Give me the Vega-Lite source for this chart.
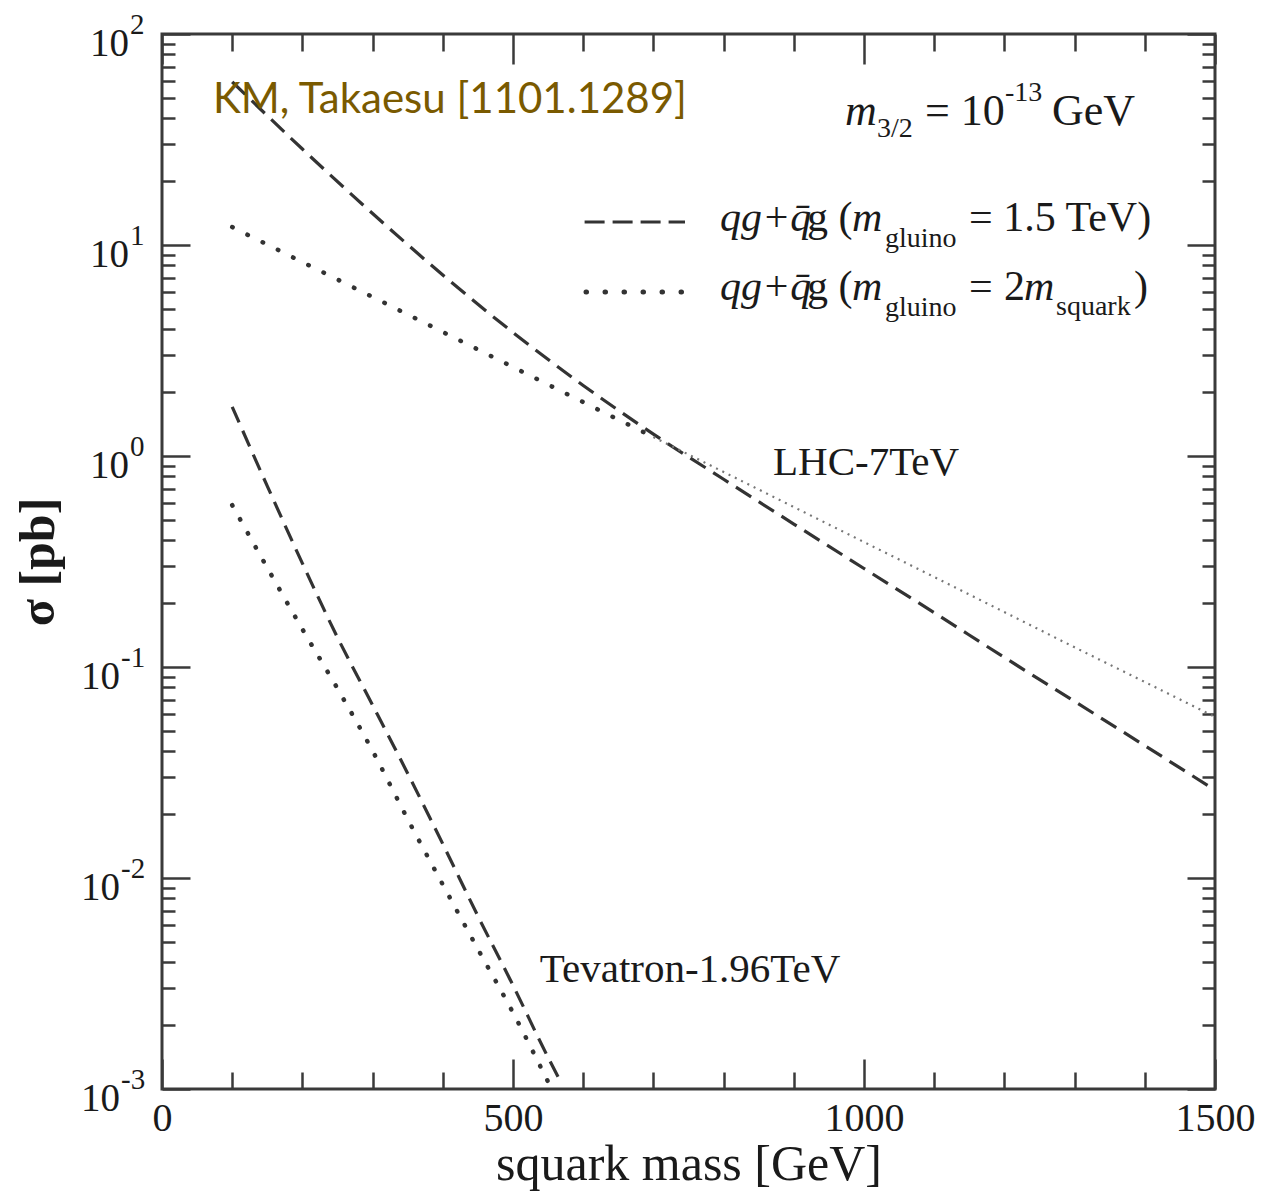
{
  "$schema": "https://vega.github.io/schema/vega-lite/v6.json",
  "width": 1053,
  "height": 1055,
  "autosize": "none",
  "padding": {"left": 162, "top": 34, "right": 48, "bottom": 104},
  "background": "white",
  "config": {"view": {"stroke": "#3a3a3a", "strokeWidth": 3}, "font": "Liberation Serif"},
  "datasets": {
    "curves": [
      {"series": "LHC dashed", "m": 100, "sigma": 59.3},
      {"series": "LHC dashed", "m": 200, "sigma": 28.5},
      {"series": "LHC dashed", "m": 300, "sigma": 14.1},
      {"series": "LHC dashed", "m": 400, "sigma": 7.21},
      {"series": "LHC dashed", "m": 500, "sigma": 3.85},
      {"series": "LHC dashed", "m": 600, "sigma": 2.16},
      {"series": "LHC dashed", "m": 700, "sigma": 1.27},
      {"series": "LHC dashed", "m": 800, "sigma": 0.776},
      {"series": "LHC dashed", "m": 900, "sigma": 0.476},
      {"series": "LHC dashed", "m": 1000, "sigma": 0.293},
      {"series": "LHC dashed", "m": 1100, "sigma": 0.181},
      {"series": "LHC dashed", "m": 1200, "sigma": 0.111},
      {"series": "LHC dashed", "m": 1300, "sigma": 0.0687},
      {"series": "LHC dashed", "m": 1400, "sigma": 0.0424},
      {"series": "LHC dashed", "m": 1500, "sigma": 0.0261},
      {"series": "LHC dotted", "m": 100, "sigma": 12.16},
      {"series": "LHC dotted", "m": 200, "sigma": 8.3},
      {"series": "LHC dotted", "m": 300, "sigma": 5.67},
      {"series": "LHC dotted", "m": 400, "sigma": 3.87},
      {"series": "LHC dotted", "m": 500, "sigma": 2.64},
      {"series": "LHC dotted", "m": 600, "sigma": 1.8},
      {"series": "LHC dotted", "m": 700, "sigma": 1.23},
      {"series": "LHC dotted", "m": 800, "sigma": 0.84},
      {"series": "LHC dotted", "m": 900, "sigma": 0.573},
      {"series": "LHC dotted", "m": 1000, "sigma": 0.391},
      {"series": "LHC dotted", "m": 1100, "sigma": 0.267},
      {"series": "LHC dotted", "m": 1200, "sigma": 0.182},
      {"series": "LHC dotted", "m": 1300, "sigma": 0.124},
      {"series": "LHC dotted", "m": 1400, "sigma": 0.0849},
      {"series": "LHC dotted", "m": 1500, "sigma": 0.058},
      {"series": "Tevatron dashed", "m": 100, "sigma": 1.71},
      {"series": "Tevatron dashed", "m": 150, "sigma": 0.72},
      {"series": "Tevatron dashed", "m": 200, "sigma": 0.31},
      {"series": "Tevatron dashed", "m": 250, "sigma": 0.138},
      {"series": "Tevatron dashed", "m": 300, "sigma": 0.066},
      {"series": "Tevatron dashed", "m": 350, "sigma": 0.0313},
      {"series": "Tevatron dashed", "m": 400, "sigma": 0.0145},
      {"series": "Tevatron dashed", "m": 450, "sigma": 0.0066},
      {"series": "Tevatron dashed", "m": 500, "sigma": 0.0031},
      {"series": "Tevatron dashed", "m": 550, "sigma": 0.00141},
      {"series": "Tevatron dashed", "m": 570, "sigma": 0.00105},
      {"series": "Tevatron dotted", "m": 100, "sigma": 0.585},
      {"series": "Tevatron dotted", "m": 150, "sigma": 0.295},
      {"series": "Tevatron dotted", "m": 200, "sigma": 0.151},
      {"series": "Tevatron dotted", "m": 250, "sigma": 0.079},
      {"series": "Tevatron dotted", "m": 300, "sigma": 0.04},
      {"series": "Tevatron dotted", "m": 350, "sigma": 0.019},
      {"series": "Tevatron dotted", "m": 400, "sigma": 0.0093},
      {"series": "Tevatron dotted", "m": 450, "sigma": 0.0046},
      {"series": "Tevatron dotted", "m": 500, "sigma": 0.0023},
      {"series": "Tevatron dotted", "m": 550, "sigma": 0.00108}
    ],
    "ypos": [
      {"v": 100, "e": "2"},
      {"v": 10, "e": "1"},
      {"v": 1, "e": "0"}
    ],
    "yneg": [
      {"v": 0.1, "e": "-1"},
      {"v": 0.01, "e": "-2"},
      {"v": 0.001, "e": "-3"}
    ]
  },
  "resolve": {"axis": {"x": "independent", "y": "independent"}},
  "layer": [
    {
      "data": {"name": "curves"},
      "transform": [{"filter": "datum.series === 'LHC dashed'"}],
      "mark": {"type": "line", "interpolate": "monotone", "stroke": "#333333", "strokeWidth": 3.2, "strokeDash": [18, 9], "clip": true},
      "encoding": {
        "x": {
          "field": "m", "type": "quantitative",
          "scale": {"domain": [0, 1500], "nice": false, "zero": false},
          "axis": {
            "orient": "bottom",
            "values": [0, 100, 200, 300, 400, 500, 600, 700, 800, 900, 1000, 1100, 1200, 1300, 1400, 1500],
            "tickSize": {"condition": {"test": "datum.value % 500 === 0", "value": -30}, "value": -17},
            "tickWidth": 2.5, "tickColor": "#3a3a3a", "domain": false, "grid": false,
            "labelExpr": "datum.value % 500 === 0 ? '' + datum.value : ''",
            "labelFont": "Liberation Serif", "labelFontSize": 40, "labelColor": "#1a1a1a",
            "labelPadding": 39, "labelOverlap": false, "labelFlush": false,
            "title": "squark mass [GeV]", "titleFont": "Liberation Serif", "titleFontSize": 50,
            "titleFontWeight": "normal", "titleColor": "#1a1a1a", "titlePadding": -12
          }
        },
        "y": {
          "field": "sigma", "type": "quantitative",
          "scale": {"type": "log", "domain": [0.001, 100], "nice": false},
          "axis": {
            "orient": "left",
            "values": [0.001, 0.002, 0.003, 0.004, 0.005, 0.006, 0.007, 0.008, 0.009, 0.01, 0.02, 0.03, 0.04, 0.05, 0.06, 0.07, 0.08, 0.09, 0.1, 0.2, 0.3, 0.4, 0.5, 0.6, 0.7, 0.8, 0.9, 1, 2, 3, 4, 5, 6, 7, 8, 9, 10, 20, 30, 40, 50, 60, 70, 80, 90, 100],
            "tickSize": {"condition": {"test": "abs(log(datum.value)/LN10 - round(log(datum.value)/LN10)) < 0.01", "value": -28}, "value": -13},
            "tickWidth": 2.5, "tickColor": "#3a3a3a", "domain": false, "grid": false, "labels": false,
            "title": "σ [pb]", "titleFont": "Liberation Serif", "titleFontSize": 50,
            "titleFontWeight": "bold", "titleColor": "#1a1a1a", "titlePadding": 97
          }
        }
      }
    },
    {
      "data": {"name": "curves"},
      "transform": [{"filter": "datum.series === 'LHC dotted' && datum.m <= 700"}],
      "mark": {"type": "line", "interpolate": "monotone", "stroke": "#333333", "strokeWidth": 4.5, "strokeDash": [0.5, 16.5], "strokeCap": "round", "clip": true},
      "encoding": {
        "x": {
          "field": "m", "type": "quantitative",
          "scale": {"domain": [0, 1500], "nice": false, "zero": false},
          "axis": {
            "orient": "top",
            "values": [0, 100, 200, 300, 400, 500, 600, 700, 800, 900, 1000, 1100, 1200, 1300, 1400, 1500],
            "tickSize": {"condition": {"test": "datum.value % 500 === 0", "value": -30}, "value": -17},
            "tickWidth": 2.5, "tickColor": "#3a3a3a", "domain": false, "grid": false, "labels": false, "title": null
          }
        },
        "y": {
          "field": "sigma", "type": "quantitative",
          "scale": {"type": "log", "domain": [0.001, 100], "nice": false},
          "axis": {
            "orient": "right",
            "values": [0.001, 0.002, 0.003, 0.004, 0.005, 0.006, 0.007, 0.008, 0.009, 0.01, 0.02, 0.03, 0.04, 0.05, 0.06, 0.07, 0.08, 0.09, 0.1, 0.2, 0.3, 0.4, 0.5, 0.6, 0.7, 0.8, 0.9, 1, 2, 3, 4, 5, 6, 7, 8, 9, 10, 20, 30, 40, 50, 60, 70, 80, 90, 100],
            "tickSize": {"condition": {"test": "abs(log(datum.value)/LN10 - round(log(datum.value)/LN10)) < 0.01", "value": -28}, "value": -13},
            "tickWidth": 2.5, "tickColor": "#3a3a3a", "domain": false, "grid": false, "labels": false, "title": null
          }
        }
      }
    },
    {
      "data": {"name": "curves"},
      "transform": [{"filter": "datum.series === 'LHC dotted' && datum.m >= 700"}],
      "mark": {"type": "line", "interpolate": "monotone", "stroke": "#777777", "strokeWidth": 2.2, "strokeDash": [2, 5], "clip": true},
      "encoding": {
        "x": {"field": "m", "type": "quantitative", "axis": null},
        "y": {"field": "sigma", "type": "quantitative", "axis": null}
      }
    },
    {
      "data": {"name": "curves"},
      "transform": [{"filter": "datum.series === 'Tevatron dashed'"}],
      "mark": {"type": "line", "interpolate": "monotone", "stroke": "#333333", "strokeWidth": 3.2, "strokeDash": [17, 9], "clip": true},
      "encoding": {
        "x": {"field": "m", "type": "quantitative", "axis": null},
        "y": {"field": "sigma", "type": "quantitative", "axis": null}
      }
    },
    {
      "data": {"name": "curves"},
      "transform": [{"filter": "datum.series === 'Tevatron dotted'"}],
      "mark": {"type": "line", "interpolate": "monotone", "stroke": "#333333", "strokeWidth": 4.5, "strokeDash": [0.5, 15.5], "strokeCap": "round", "clip": true},
      "encoding": {
        "x": {"field": "m", "type": "quantitative", "axis": null},
        "y": {"field": "sigma", "type": "quantitative", "axis": null}
      }
    },
    {
      "data": {"values": [{}]},
      "mark": {"type": "rule", "stroke": "#333333", "strokeWidth": 3, "strokeDash": [20, 8]},
      "encoding": {
        "x": {"datum": 602, "type": "quantitative", "axis": null},
        "x2": {"datum": 745},
        "y": {"datum": 12.85, "type": "quantitative", "axis": null}
      }
    },
    {
      "data": {"values": [{}]},
      "mark": {"type": "rule", "stroke": "#333333", "strokeWidth": 5, "strokeDash": [0.5, 18.5], "strokeCap": "round"},
      "encoding": {
        "x": {"datum": 604, "type": "quantitative", "axis": null},
        "x2": {"datum": 745},
        "y": {"datum": 5.98, "type": "quantitative", "axis": null}
      }
    },
    {
      "data": {"name": "ypos"},
      "mark": {"type": "text", "text": "10", "align": "right", "baseline": "middle", "dx": -33, "dy": 10, "font": "Liberation Serif", "fontSize": 39, "fill": "#1a1a1a"},
      "encoding": {
        "x": {"datum": 0, "type": "quantitative", "axis": null},
        "y": {"field": "v", "type": "quantitative", "axis": null}
      }
    },
    {
      "data": {"name": "ypos"},
      "mark": {"type": "text", "align": "left", "baseline": "middle", "dx": -32, "dy": -9, "font": "Liberation Serif", "fontSize": 29, "fill": "#1a1a1a"},
      "encoding": {
        "x": {"datum": 0, "type": "quantitative", "axis": null},
        "y": {"field": "v", "type": "quantitative", "axis": null},
        "text": {"field": "e"}
      }
    },
    {
      "data": {"name": "yneg"},
      "mark": {"type": "text", "text": "10", "align": "right", "baseline": "middle", "dx": -42, "dy": 10, "font": "Liberation Serif", "fontSize": 39, "fill": "#1a1a1a"},
      "encoding": {
        "x": {"datum": 0, "type": "quantitative", "axis": null},
        "y": {"field": "v", "type": "quantitative", "axis": null}
      }
    },
    {
      "data": {"name": "yneg"},
      "mark": {"type": "text", "align": "left", "baseline": "middle", "dx": -41, "dy": -9, "font": "Liberation Serif", "fontSize": 29, "fill": "#1a1a1a"},
      "encoding": {
        "x": {"datum": 0, "type": "quantitative", "axis": null},
        "y": {"field": "v", "type": "quantitative", "axis": null},
        "text": {"field": "e"}
      }
    },
    {
      "data": {"values": [{}]},
      "mark": {"type": "text", "text": "KM, Takaesu [1101.1289]", "align": "left", "baseline": "middle", "font": "Lato", "fontSize": 42, "fill": "#7a5a00"},
      "encoding": {
        "x": {"datum": 72.6, "type": "quantitative", "axis": null},
        "y": {"datum": 48.6, "type": "quantitative", "axis": null}
      }
    },
    {
      "data": {"values": [{}]},
      "mark": {"type": "text", "text": "m", "align": "left", "baseline": "alphabetic", "font": "Liberation Serif", "fontStyle": "italic", "fontSize": 44, "fill": "#1a1a1a"},
      "encoding": {"x": {"datum": 972.9, "type": "quantitative", "axis": null}, "y": {"datum": 37.0, "type": "quantitative", "axis": null}}
    },
    {
      "data": {"values": [{}]},
      "mark": {"type": "text", "text": "3/2", "align": "left", "baseline": "alphabetic", "dx": 32, "dy": 12, "font": "Liberation Serif", "fontSize": 28, "fill": "#1a1a1a"},
      "encoding": {"x": {"datum": 972.9, "type": "quantitative", "axis": null}, "y": {"datum": 37.0, "type": "quantitative", "axis": null}}
    },
    {
      "data": {"values": [{}]},
      "mark": {"type": "text", "text": "= 10", "align": "left", "baseline": "alphabetic", "dx": 80, "font": "Liberation Serif", "fontSize": 44, "fill": "#1a1a1a"},
      "encoding": {"x": {"datum": 972.9, "type": "quantitative", "axis": null}, "y": {"datum": 37.0, "type": "quantitative", "axis": null}}
    },
    {
      "data": {"values": [{}]},
      "mark": {"type": "text", "text": "-13", "align": "left", "baseline": "alphabetic", "dx": 160, "dy": -24, "font": "Liberation Serif", "fontSize": 28, "fill": "#1a1a1a"},
      "encoding": {"x": {"datum": 972.9, "type": "quantitative", "axis": null}, "y": {"datum": 37.0, "type": "quantitative", "axis": null}}
    },
    {
      "data": {"values": [{}]},
      "mark": {"type": "text", "text": "GeV", "align": "left", "baseline": "alphabetic", "dx": 207, "font": "Liberation Serif", "fontSize": 44, "fill": "#1a1a1a"},
      "encoding": {"x": {"datum": 972.9, "type": "quantitative", "axis": null}, "y": {"datum": 37.0, "type": "quantitative", "axis": null}}
    },
    {
      "data": {"values": [{}]},
      "mark": {"type": "text", "text": "qg+q̄", "align": "left", "baseline": "alphabetic", "font": "Liberation Serif", "fontStyle": "italic", "fontSize": 42, "fill": "#1a1a1a"},
      "encoding": {"x": {"datum": 794.9, "type": "quantitative", "axis": null}, "y": {"datum": 11.65, "type": "quantitative", "axis": null}}
    },
    {
      "data": {"values": [{}]},
      "mark": {"type": "text", "text": "g (", "align": "left", "baseline": "alphabetic", "dx": 87, "font": "Liberation Serif", "fontSize": 42, "fill": "#1a1a1a"},
      "encoding": {"x": {"datum": 794.9, "type": "quantitative", "axis": null}, "y": {"datum": 11.65, "type": "quantitative", "axis": null}}
    },
    {
      "data": {"values": [{}]},
      "mark": {"type": "text", "text": "m", "align": "left", "baseline": "alphabetic", "dx": 132, "font": "Liberation Serif", "fontStyle": "italic", "fontSize": 42, "fill": "#1a1a1a"},
      "encoding": {"x": {"datum": 794.9, "type": "quantitative", "axis": null}, "y": {"datum": 11.65, "type": "quantitative", "axis": null}}
    },
    {
      "data": {"values": [{}]},
      "mark": {"type": "text", "text": "gluino", "align": "left", "baseline": "alphabetic", "dx": 165, "dy": 16, "font": "Liberation Serif", "fontSize": 28, "fill": "#1a1a1a"},
      "encoding": {"x": {"datum": 794.9, "type": "quantitative", "axis": null}, "y": {"datum": 11.65, "type": "quantitative", "axis": null}}
    },
    {
      "data": {"values": [{}]},
      "mark": {"type": "text", "text": "= 1.5 TeV)", "align": "left", "baseline": "alphabetic", "dx": 249, "font": "Liberation Serif", "fontSize": 42, "fill": "#1a1a1a"},
      "encoding": {"x": {"datum": 794.9, "type": "quantitative", "axis": null}, "y": {"datum": 11.65, "type": "quantitative", "axis": null}}
    },
    {
      "data": {"values": [{}]},
      "mark": {"type": "text", "text": "qg+q̄", "align": "left", "baseline": "alphabetic", "font": "Liberation Serif", "fontStyle": "italic", "fontSize": 42, "fill": "#1a1a1a"},
      "encoding": {"x": {"datum": 794.9, "type": "quantitative", "axis": null}, "y": {"datum": 5.48, "type": "quantitative", "axis": null}}
    },
    {
      "data": {"values": [{}]},
      "mark": {"type": "text", "text": "g (", "align": "left", "baseline": "alphabetic", "dx": 87, "font": "Liberation Serif", "fontSize": 42, "fill": "#1a1a1a"},
      "encoding": {"x": {"datum": 794.9, "type": "quantitative", "axis": null}, "y": {"datum": 5.48, "type": "quantitative", "axis": null}}
    },
    {
      "data": {"values": [{}]},
      "mark": {"type": "text", "text": "m", "align": "left", "baseline": "alphabetic", "dx": 132, "font": "Liberation Serif", "fontStyle": "italic", "fontSize": 42, "fill": "#1a1a1a"},
      "encoding": {"x": {"datum": 794.9, "type": "quantitative", "axis": null}, "y": {"datum": 5.48, "type": "quantitative", "axis": null}}
    },
    {
      "data": {"values": [{}]},
      "mark": {"type": "text", "text": "gluino", "align": "left", "baseline": "alphabetic", "dx": 165, "dy": 16, "font": "Liberation Serif", "fontSize": 28, "fill": "#1a1a1a"},
      "encoding": {"x": {"datum": 794.9, "type": "quantitative", "axis": null}, "y": {"datum": 5.48, "type": "quantitative", "axis": null}}
    },
    {
      "data": {"values": [{}]},
      "mark": {"type": "text", "text": "=", "align": "left", "baseline": "alphabetic", "dx": 249, "font": "Liberation Serif", "fontSize": 42, "fill": "#1a1a1a"},
      "encoding": {"x": {"datum": 794.9, "type": "quantitative", "axis": null}, "y": {"datum": 5.48, "type": "quantitative", "axis": null}}
    },
    {
      "data": {"values": [{}]},
      "mark": {"type": "text", "text": "2", "align": "left", "baseline": "alphabetic", "dx": 284, "font": "Liberation Serif", "fontSize": 42, "fill": "#1a1a1a"},
      "encoding": {"x": {"datum": 794.9, "type": "quantitative", "axis": null}, "y": {"datum": 5.48, "type": "quantitative", "axis": null}}
    },
    {
      "data": {"values": [{}]},
      "mark": {"type": "text", "text": "m", "align": "left", "baseline": "alphabetic", "dx": 304, "font": "Liberation Serif", "fontStyle": "italic", "fontSize": 42, "fill": "#1a1a1a"},
      "encoding": {"x": {"datum": 794.9, "type": "quantitative", "axis": null}, "y": {"datum": 5.48, "type": "quantitative", "axis": null}}
    },
    {
      "data": {"values": [{}]},
      "mark": {"type": "text", "text": "squark", "align": "left", "baseline": "alphabetic", "dx": 336, "dy": 15, "font": "Liberation Serif", "fontSize": 28, "fill": "#1a1a1a"},
      "encoding": {"x": {"datum": 794.9, "type": "quantitative", "axis": null}, "y": {"datum": 5.48, "type": "quantitative", "axis": null}}
    },
    {
      "data": {"values": [{}]},
      "mark": {"type": "text", "text": ")", "align": "left", "baseline": "alphabetic", "dx": 414, "font": "Liberation Serif", "fontSize": 42, "fill": "#1a1a1a"},
      "encoding": {"x": {"datum": 794.9, "type": "quantitative", "axis": null}, "y": {"datum": 5.48, "type": "quantitative", "axis": null}}
    },
    {
      "data": {"values": [{}]},
      "mark": {"type": "text", "text": "LHC-7TeV", "align": "left", "baseline": "middle", "font": "Liberation Serif", "fontSize": 41, "fill": "#1a1a1a"},
      "encoding": {"x": {"datum": 870.4, "type": "quantitative", "axis": null}, "y": {"datum": 0.926, "type": "quantitative", "axis": null}}
    },
    {
      "data": {"values": [{}]},
      "mark": {"type": "text", "text": "Tevatron-1.96TeV", "align": "left", "baseline": "middle", "font": "Liberation Serif", "fontSize": 41, "fill": "#1a1a1a"},
      "encoding": {"x": {"datum": 538.2, "type": "quantitative", "axis": null}, "y": {"datum": 0.00366, "type": "quantitative", "axis": null}}
    }
  ]
}
